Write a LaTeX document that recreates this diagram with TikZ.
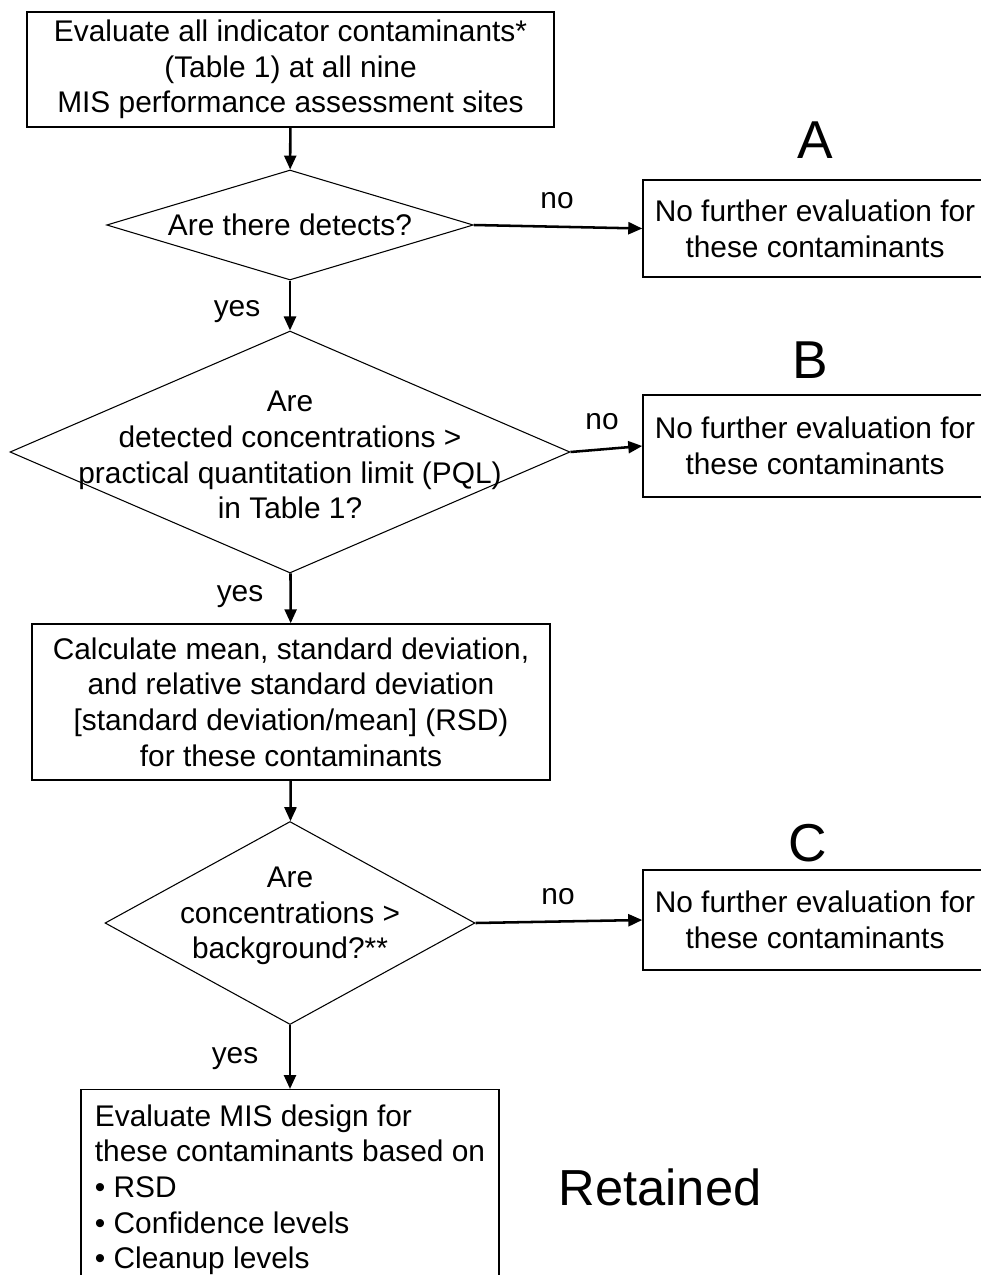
\documentclass[tikz,border=0pt]{standalone}
\usepackage{fontspec}
\setmainfont{Liberation Sans}
\usetikzlibrary{arrows.meta, shapes.geometric}
\tikzset{
    x=0.75pt, y=-0.75pt, font=\fontsize{22.4}{26.8}\selectfont,
    box/.style={draw, line width=1.1pt, rectangle, inner sep=0pt, align=center},
    dec/.style={draw, line width=0.8pt, diamond, inner sep=0pt},
    flow/.style={-{Triangle[length=10.5pt, width=9pt]}, line width=1.9pt},
    lbl/.style={inner sep=1pt},
    big/.style={font=\fontsize{40}{40}\selectfont, inner sep=0pt},
}

\begin{document}
\begin{tikzpicture}
    \useasboundingbox (0,0) rectangle (981,1275);

    \node[box, minimum width=395pt, minimum height=86.5pt] (start) at (290.5,69.5)
        {Evaluate all indicator contaminants*\\(Table 1) at all nine\\MIS performance assessment sites};

    \node[dec, minimum width=275pt, minimum height=82.5pt] (qdet) at (290,225) {};
    \node at (qdet) (qdettxt) {Are there detects?};

    % the three side boxes run off the right edge
    \node[box, minimum width=258pt, minimum height=72.75pt] (stopA) at (815,228.5)
        {No further evaluation for\\these contaminants};
    \node[big] (tagA) at (815,140) {A};

    \node[dec, minimum width=420pt, minimum height=181.5pt] (qpql) at (290,452) {};
    \node[align=center] at (290,455) (qpqltxt)
        {Are\\detected concentrations >\\practical quantitation limit (PQL)\\in Table 1?};

    \node[box, minimum width=258pt, minimum height=76.5pt] (stopB) at (815,446)
        {No further evaluation for\\these contaminants};
    \node[big] (tagB) at (810,360) {B};

    \node[box, minimum width=388.5pt, minimum height=117pt] (calc) at (291,702)
        {Calculate mean, standard deviation,\\and relative standard deviation\\{[}standard deviation/mean{]} (RSD)\\for these contaminants};

    \node[dec, minimum width=277.5pt, minimum height=152.25pt] (qbg) at (290,923) {};
    \node[align=center] at (290,916) (qbgtxt) {Are\\concentrations >\\background?**};

    \node[box, minimum width=258pt, minimum height=75pt] (stopC) at (815,920)
        {No further evaluation for\\these contaminants};
    \node[big] (tagC) at (808,843) {C};

    % last box runs off the bottom of the page
    \node[box, minimum width=313.5pt, anchor=north, align=left, inner ysep=11pt] (design) at (290,1089)
        {Evaluate MIS design for\\these contaminants based on\\• RSD\\• Confidence levels\\• Cleanup levels\\[40pt]};
    \node[font=\fontsize{38}{38}\selectfont] (kept) at (660,1187) {Retained};

    \draw[flow] (start) -- (qdet);
    \draw[flow] (qdet.east) -- (stopA.west);
    \draw[flow] (qdet) -- (qpql);
    \draw[flow] (qpql.east) -- (stopB.west);
    \draw[flow] (qpql) -- (calc);
    \draw[flow] (calc) -- (qbg);
    \draw[flow] (qbg.east) -- (stopC.west);
    \draw[flow] (qbg) -- (design);

    \node[lbl] (noA) at (557,201) {no};
    \node[lbl] (yesA) at (237,312) {yes};
    \node[lbl] (noB) at (602,422) {no};
    \node[lbl] (yesB) at (240,597) {yes};
    \node[lbl] (noC) at (558,897) {no};
    \node[lbl] (yesC) at (235,1059) {yes};
\end{tikzpicture}
\end{document}
